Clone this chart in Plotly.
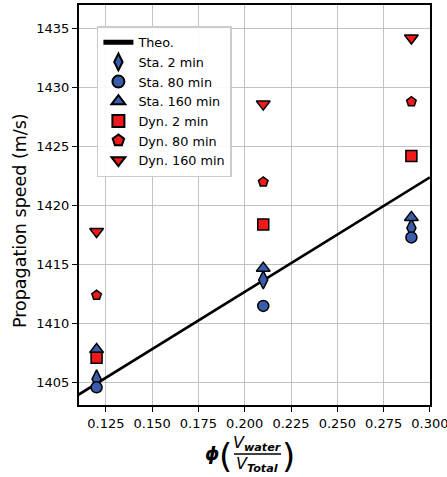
import plotly.graph_objects as go

# Data
phi = [0.12, 0.21, 0.29]
theo_x = [0.11, 0.30]
theo_y = [1403.95, 1422.4]
sta_2 = [1405.3, 1413.7, 1418.1]
sta_80 = [1404.6, 1411.5, 1417.3]
sta_160 = [1407.8, 1414.7, 1419.0]
dyn_2 = [1407.1, 1418.4, 1424.2]
dyn_80 = [1412.4, 1422.0, 1428.8]
dyn_160 = [1417.8, 1428.6, 1434.2]

BLUE = "#3A5DAB"
RED = "#F01A1A"
FONT = "DejaVu Sans"

fig = go.Figure()
fig.add_trace(go.Scatter(x=theo_x, y=theo_y, mode="lines", name="Theo.",
                         line=dict(color="black", width=2.6)))

series = [
    ("Sta. 2 min", sta_2, "diamond-tall", BLUE, 13),
    ("Sta. 80 min", sta_80, "circle", BLUE, 11),
    ("Sta. 160 min", sta_160, "triangle-up", BLUE, 12),
    ("Dyn. 2 min", dyn_2, "square", RED, 11),
    ("Dyn. 80 min", dyn_80, "pentagon", RED, 10),
    ("Dyn. 160 min", dyn_160, "triangle-down", RED, 12),
]
for name, ys, sym, col, sz in series:
    fig.add_trace(go.Scatter(x=phi, y=ys, mode="markers", name=name,
                             marker=dict(symbol=sym, color=col, size=sz,
                                         line=dict(color="black", width=1.5))))

L, R, T, B = 79, 17, 5, 72
W, H = 447, 477
pw, ph = W - L - R, H - T - B


def px(x):
    return (x - L) / pw


def py(y):
    return (H - B - y) / ph


axis_common = dict(showline=True, linecolor="black", linewidth=2, mirror=True,
                   ticks="outside", ticklen=5, tickwidth=1.3, tickcolor="black",
                   showgrid=True, gridcolor="#c2c2c2", gridwidth=1.3,
                   zeroline=False, ticklabeloverflow="allow", automargin=False,
                   tickfont=dict(family=FONT, size=13, color="black"))

fig.update_layout(
    width=W, height=H,
    margin=dict(l=L, r=R, t=T, b=B, autoexpand=False),
    paper_bgcolor="white", plot_bgcolor="white",
    showlegend=True,
    legend=dict(x=0.051, y=0.9475, xanchor="left", yanchor="top",
                bgcolor="rgba(255,255,255,0.9)", bordercolor="#cccccc", borderwidth=1.5,
                font=dict(family=FONT, size=12.8, color="black"),
                tracegroupgap=0, itemsizing="constant"),
    xaxis=dict(range=[0.1105, 0.30005], tick0=0, dtick=0.025, tickformat=".3f", **axis_common),
    yaxis=dict(range=[1403.1, 1437.0], tick0=1405, dtick=5, **axis_common),
)

annotations = [
    dict(x=px(20), y=py(221), text="Propagation speed (m/s)", textangle=-90,
         font=dict(family=FONT, size=17.5, color="black")),
    dict(x=px(212), y=py(453), text="<b><i>ϕ</i></b>",
         font=dict(family=FONT, size=18, color="black")),
    dict(x=px(225), y=py(456), text="(",
         font=dict(family=FONT, size=34, color="black")),
    dict(x=px(288), y=py(456), text=")",
         font=dict(family=FONT, size=34, color="black")),
    dict(x=px(257), y=py(443), text="<i>V</i><sub><i><b>water</b></i></sub>",
         font=dict(family=FONT, size=16, color="black")),
    dict(x=px(257), y=py(465), text="<i>V</i><sub><i><b>Total</b></i></sub>",
         font=dict(family=FONT, size=16, color="black")),
]
for a in annotations:
    a.update(xref="paper", yref="paper", showarrow=False, xanchor="center", yanchor="middle")
    fig.add_annotation(**a)

fig.add_shape(type="line", xref="paper", yref="paper",
              x0=px(234), x1=px(281), y0=py(454), y1=py(454),
              line=dict(color="black", width=1.3))

fig.write_html("out.html")
